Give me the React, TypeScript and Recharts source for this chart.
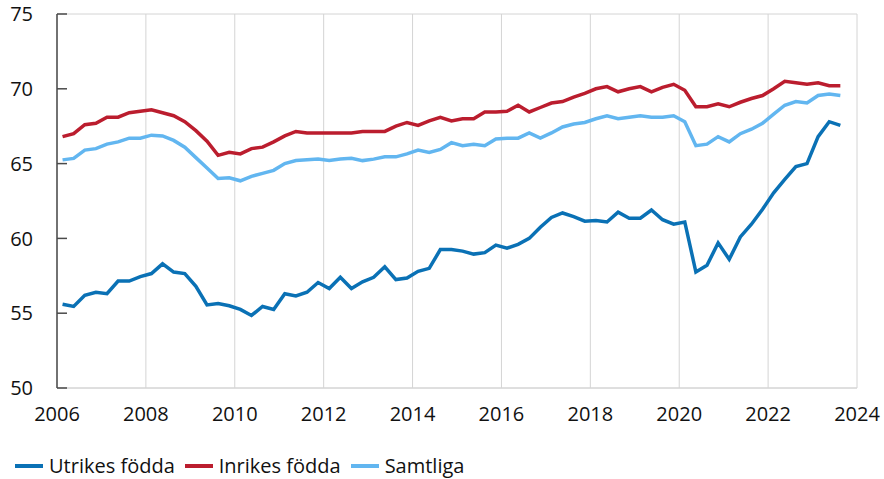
import React from "react";
import { LineChart, Line, XAxis, YAxis, CartesianGrid } from "recharts";

const startYear = 2006;
const xTicks = [2006, 2008, 2010, 2012, 2014, 2016, 2018, 2020, 2022, 2024];
const yTicks = [50, 55, 60, 65, 70, 75];

const utrikes = [
  55.6, 55.45, 56.2, 56.4, 56.3, 57.15, 57.15, 57.45, 57.65, 58.3, 57.75, 57.65, 56.8, 55.55, 55.65, 55.5,
  55.25, 54.85, 55.45, 55.25, 56.3, 56.15, 56.4, 57.05, 56.65, 57.4, 56.65, 57.1, 57.4, 58.1, 57.25, 57.35,
  57.8, 58.0, 59.25, 59.25, 59.15, 58.95, 59.05, 59.55, 59.35, 59.6, 60.0, 60.75, 61.4, 61.7, 61.45, 61.15,
  61.2, 61.1, 61.75, 61.35, 61.35, 61.9, 61.25, 60.95, 61.1, 57.75, 58.2, 59.7, 58.6, 60.1, 60.95, 61.95,
  63.05, 63.95, 64.8, 65.0, 66.8, 67.8, 67.55,
];
const inrikes = [
  66.8, 67.0, 67.6, 67.7, 68.1, 68.1, 68.4, 68.5, 68.6, 68.4, 68.2, 67.8, 67.2, 66.5, 65.55, 65.75,
  65.65, 66.0, 66.1, 66.45, 66.85, 67.15, 67.05, 67.05, 67.05, 67.05, 67.05, 67.15, 67.15, 67.15, 67.5, 67.75,
  67.55, 67.85, 68.1, 67.85, 68.0, 68.0, 68.45, 68.45, 68.5, 68.9, 68.45, 68.75, 69.05, 69.15, 69.45, 69.7,
  70.0, 70.15, 69.8, 70.0, 70.15, 69.8, 70.1, 70.3, 69.9, 68.8, 68.8, 69.0, 68.8, 69.1, 69.35, 69.55,
  70.0, 70.5, 70.4, 70.3, 70.4, 70.2, 70.2,
];
const samtliga = [
  65.25, 65.35, 65.9, 66.0, 66.3, 66.45, 66.7, 66.7, 66.9, 66.85, 66.55, 66.1, 65.4, 64.7, 64.0, 64.05,
  63.85, 64.15, 64.35, 64.55, 65.0, 65.2, 65.25, 65.3, 65.2, 65.3, 65.35, 65.2, 65.3, 65.45, 65.45, 65.65,
  65.9, 65.75, 65.95, 66.4, 66.2, 66.3, 66.2, 66.65, 66.7, 66.7, 67.05, 66.7, 67.05, 67.45, 67.65, 67.75,
  68.0, 68.2, 68.0, 68.1, 68.2, 68.1, 68.1, 68.2, 67.8, 66.2, 66.3, 66.8, 66.45, 67.0, 67.3, 67.7,
  68.3, 68.9, 69.15, 69.05, 69.55, 69.65, 69.55,
];

const series = [
  { key: "utrikes", name: "Utrikes födda", color: "#0a71b5" },
  { key: "inrikes", name: "Inrikes födda", color: "#bb1d2e" },
  { key: "samtliga", name: "Samtliga", color: "#62b6f0" },
];

const data = utrikes.map((u, i) => ({
  t: startYear + i / 4 + 0.125,
  utrikes: u,
  inrikes: inrikes[i],
  samtliga: samtliga[i],
}));

const FONT = "'Open Sans', 'Noto Sans', sans-serif";
const AXIS_DARK = "#4a4a4a";
const GRID = "#d4d4d4";
const FS = 20;

const LeftTick = (props: any) => {
  const { x, y, payload } = props;
  return (
    <g>
      <line x1={x} x2={x + 10} y1={y} y2={y} stroke={AXIS_DARK} strokeWidth={1.5} />
      <text x={x - 24} y={y} dy="0.36em" textAnchor="end" fontFamily={FONT} fontSize={FS} fill="#111">
        {payload.value}
      </text>
    </g>
  );
};

const RightTick = (props: any) => {
  const { x, y } = props;
  return <line x1={x - 10} x2={x} y1={y} y2={y} stroke={AXIS_DARK} strokeWidth={1.5} />;
};

export default function App() {
  return (
    <div style={{ position: "absolute", left: 0, top: 0, width: 884, height: 479, background: "#fff" }}>
      <LineChart width={884} height={479} data={data} margin={{ top: 14, right: 27, left: 0, bottom: 51 }}>
        <CartesianGrid stroke={GRID} strokeWidth={1} vertical horizontal />
        <XAxis
          dataKey="t"
          type="number"
          domain={[2006, 2024]}
          ticks={xTicks}
          tickLine={false}
          axisLine={{ stroke: GRID }}
          tickMargin={13}
          height={40}
          tick={{ fontFamily: FONT, fontSize: FS, fill: "#111" }}
          interval={0}
        />
        <YAxis
          yAxisId="left"
          domain={[50, 75]}
          ticks={yTicks}
          width={57}
          tickSize={0}
          tickMargin={0}
          tickLine={false}
          axisLine={{ stroke: AXIS_DARK, strokeWidth: 1.5 }}
          tick={<LeftTick />}
          interval={0}
        />
        <YAxis
          yAxisId="right"
          orientation="right"
          domain={[50, 75]}
          ticks={yTicks}
          width={0}
          tickSize={0}
          tickMargin={0}
          tickLine={false}
          axisLine={{ stroke: AXIS_DARK, strokeWidth: 1.5 }}
          tick={<RightTick />}
          interval={0}
        />
        {series.map((s) => (
          <Line
            key={s.key}
            yAxisId="left"
            type="linear"
            dataKey={s.key}
            name={s.name}
            stroke={s.color}
            strokeWidth={3.5}
            dot={false}
            isAnimationActive={false}
          />
        ))}
      </LineChart>
      <div
        style={{
          position: "absolute",
          left: 15,
          top: 451,
          display: "flex",
          alignItems: "center",
          fontFamily: FONT,
          fontSize: FS,
          color: "#111",
          lineHeight: "30px",
          whiteSpace: "nowrap",
        }}
      >
        {series.map((s) => (
          <div key={s.key} style={{ display: "flex", alignItems: "center", marginRight: 10 }}>
            <span style={{ display: "inline-block", width: 28, height: 4, background: s.color, marginRight: 6 }} />
            <span>{s.name}</span>
          </div>
        ))}
      </div>
    </div>
  );
}
